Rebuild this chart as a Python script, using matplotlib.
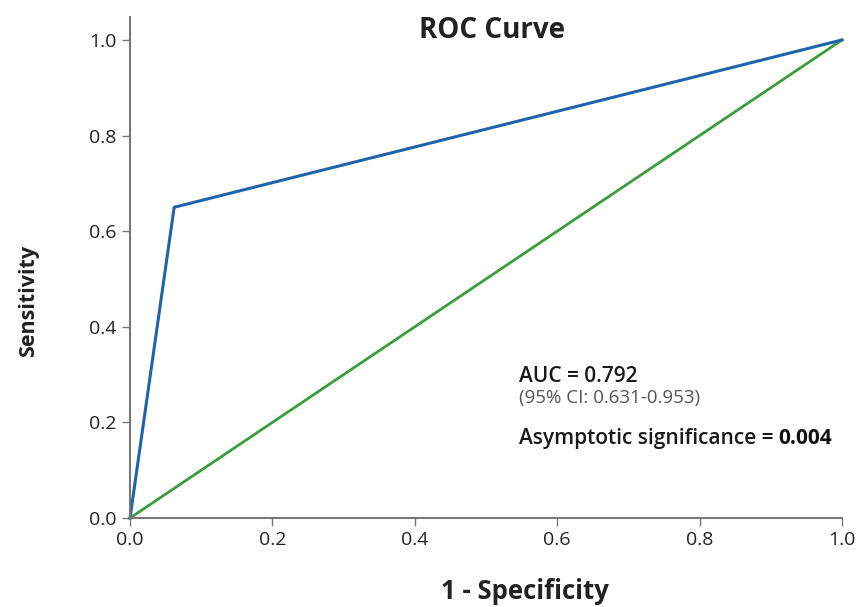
import matplotlib
matplotlib.use("Agg")
import matplotlib.pyplot as plt

# ROC points (1 - specificity, sensitivity)
fpr = [0.0, 0.062, 1.0]
tpr = [0.0, 0.65, 1.0]
ref_line = [0.0, 1.0]

ticks = [0.0, 0.2, 0.4, 0.6, 0.8, 1.0]
tick_labels = ["0.0", "0.2", "0.4", "0.6", "0.8", "1.0"]

auc_text = "AUC = 0.792"
ci_text = "(95% CI: 0.631-0.953)"
sig_label = "Asymptotic significance = "
sig_value = "0.004"

plt.rcParams["font.family"] = ["Open Sans", "DejaVu Sans"]

fig = plt.figure(figsize=(8.57, 6.07), dpi=100)
ax = fig.add_axes([0.1517, 0.1466, 0.8308, 0.8254])

ax.plot(ref_line, ref_line, color="#3a9e3a", lw=2, clip_on=False)
ax.plot(fpr, tpr, color="#1f64a8", lw=2.2, clip_on=False)

ax.set_xlim(0, 1.0)
ax.set_ylim(0, 1.048)
ax.set_xticks(ticks)
ax.set_xticklabels(tick_labels)
ax.set_yticks(ticks)
ax.set_yticklabels(tick_labels)
ax.tick_params(labelsize=14, colors="#777777", labelcolor="#222222", length=6, width=1)
for s in ["top", "right"]:
    ax.spines[s].set_visible(False)
for s in ["left", "bottom"]:
    ax.spines[s].set_color("#777777")
    ax.spines[s].set_linewidth(1.5)

fig.text(0.574, 0.949, "ROC Curve", ha="center", va="center", fontsize=20, fontweight="bold", color="#222222")
fig.text(0.613, 0.026, "1 - Specificity", ha="center", va="center", fontsize=18.5, fontweight="bold", color="#222222")
fig.text(0.033, 0.505, "Sensitivity", ha="center", va="center", rotation=90, fontsize=15.5, fontweight="bold", color="#222222")

x0 = 0.546
ax.text(x0, 0.297, auc_text, fontsize=15, fontweight="semibold", color="#1a1a1a", va="center")
ax.text(x0, 0.251, ci_text, fontsize=13.5, color="#555555", va="center")
t = ax.text(x0, 0.167, sig_label, fontsize=15, fontweight="semibold", color="#1a1a1a", va="center")
fig.canvas.draw()
bb = t.get_window_extent().transformed(ax.transData.inverted())
ax.text(bb.x1, 0.167, sig_value, fontsize=15, fontweight="bold", color="#111111", va="center")

fig.savefig("out.png", dpi=100)
